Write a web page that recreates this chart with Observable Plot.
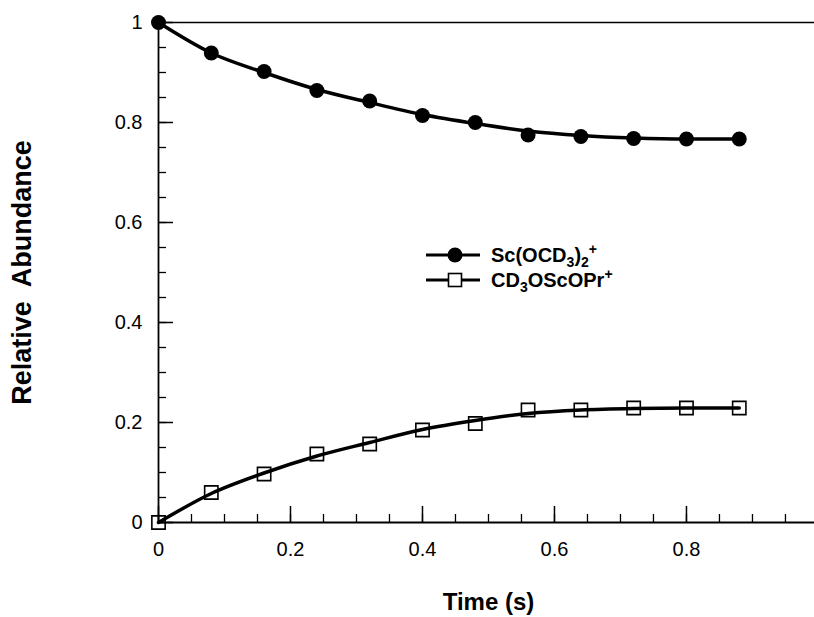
<!DOCTYPE html>
<html><head><meta charset="utf-8">
<script src="https://cdn.jsdelivr.net/npm/d3@7"></script>
<script src="https://cdn.jsdelivr.net/npm/@observablehq/plot@0.6"></script>
<style>
body{margin:0;background:#fff;}
#wrap{position:relative;width:814px;height:617px;font-family:"Liberation Sans",Arial,Helvetica,sans-serif;}
.leg{position:absolute;display:flex;align-items:center;height:24px;font-weight:bold;font-size:20px;line-height:1;color:#000;white-space:nowrap;}
.leg svg{display:block;}
.leg span{margin-left:11px;}
.leg sub,.leg sup{font-size:14px;line-height:0;}
.leg sub{vertical-align:-5px;}
.leg sup{vertical-align:8px;}
</style></head><body><div id="wrap"></div>
<script>
const time = [0, 0.08, 0.16, 0.24, 0.32, 0.40, 0.48, 0.56, 0.64, 0.72, 0.80, 0.88];
const scValues = [1.0, 0.939, 0.902, 0.864, 0.843, 0.814, 0.800, 0.775, 0.772, 0.768, 0.767, 0.767];
const cdValues = [0, 0.060, 0.097, 0.137, 0.157, 0.185, 0.198, 0.225, 0.225, 0.229, 0.229, 0.229];
// fitted curves at the same times
const scFit = [1.0, 0.939, 0.900, 0.866, 0.840, 0.816, 0.798, 0.783, 0.774, 0.769, 0.767, 0.767];
const cdFit = [0, 0.058, 0.099, 0.133, 0.160, 0.186, 0.204, 0.218, 0.225, 0.228, 0.229, 0.229];
const xTickLabels = [0, 0.2, 0.4, 0.6, 0.8];
const yTickLabels = [0, 0.2, 0.4, 0.6, 0.8, 1];
const xTitle = "Time (s)";
const yTitle = "Relative\u00a0 Abundance";
const seriesHtml = ["Sc(OCD<sub>3</sub>)<sub>2</sub><sup>+</sup>", "CD<sub>3</sub>OScOPr<sup>+</sup>"];

const sc = time.map((t, i) => ({t, v: scValues[i]}));
const cd = time.map((t, i) => ({t, v: cdValues[i]}));
const scF = time.map((t, i) => ({t, v: scFit[i]}));
const cdF = time.map((t, i) => ({t, v: cdFit[i]}));
const minor = d3.range(0, 1.0001, 0.05).map(d => +d.toFixed(2));
const fmt = d => d3.format("~g")(d);

const W = 814, H = 617, mL = 158, mR = 0, mT = 22, mB = 95;
const pw = W - mL - mR, ph = H - mT - mB;

const chart = Plot.plot({
  width: W, height: H,
  marginTop: mT, marginLeft: mL, marginRight: mR, marginBottom: mB,
  style: {fontFamily: '"Liberation Sans", Arial, Helvetica, sans-serif', color: "#000", background: "#fff"},
  x: {domain: [0, 0.994], label: null},
  y: {domain: [0, 1], label: null},
  marks: [
    Plot.ruleY([1], {strokeWidth: 1.5}),
    Plot.ruleY([0], {strokeWidth: 1.8}),
    Plot.ruleX([0], {strokeWidth: 1.8}),
    Plot.tickX(minor.filter(d => d < 0.99), {x: d => d, insetTop: ph - 8, strokeWidth: 1.3}),
    Plot.tickX(xTickLabels, {x: d => d, insetTop: ph - 16, strokeWidth: 1.5}),
    Plot.tickY(minor, {y: d => d, insetRight: pw - 8, strokeWidth: 1.3}),
    Plot.tickY(yTickLabels, {y: d => d, insetRight: pw - 15, strokeWidth: 1.5}),
    Plot.axisX(xTickLabels, {tickSize: 0, tickPadding: 19, tickFormat: fmt, fontSize: 20, label: null}),
    Plot.axisY(yTickLabels, {tickSize: 0, tickPadding: 16, tickFormat: fmt, fontSize: 20, label: null}),
    Plot.line(scF, {x: "t", y: "v", curve: "monotone-x", strokeWidth: 3.5}),
    Plot.dot(sc, {x: "t", y: "v", r: 7.5, fill: "#000", stroke: "none"}),
    Plot.line(cdF, {x: "t", y: "v", curve: "monotone-x", strokeWidth: 3.5}),
    Plot.dot(cd, {x: "t", y: "v", symbol: "square", r: 7.5, fill: "none", stroke: "#000", strokeWidth: 1.6}),
    Plot.text([yTitle], {frameAnchor: "left", dx: -136, rotate: -90, textAnchor: "middle", lineAnchor: "middle", fontSize: 27, fontWeight: "bold"}),
    Plot.text([xTitle], {frameAnchor: "bottom", dy: 80, dx: 2, textAnchor: "middle", lineAnchor: "middle", fontSize: 24, fontWeight: "bold"})
  ]
});
const wrap = document.getElementById("wrap");
wrap.appendChild(chart);

// legend overlay
const legendRows = [
  {top: 243, sym: '<circle cx="29" cy="12" r="7.5" fill="#000"/>'},
  {top: 268, sym: '<rect x="22.5" y="5.5" width="13" height="13" fill="#fff" stroke="#000" stroke-width="1.6"/>'}
];
legendRows.forEach((row, i) => {
  const div = document.createElement("div");
  div.className = "leg";
  div.style.left = "426px";
  div.style.top = row.top + "px";
  div.innerHTML = '<svg width="54" height="24"><line x1="0" x2="54" y1="12" y2="12" stroke="#000" stroke-width="3"/>' + row.sym + '</svg><span>' + seriesHtml[i] + '</span>';
  wrap.appendChild(div);
});
</script>
</body></html>
